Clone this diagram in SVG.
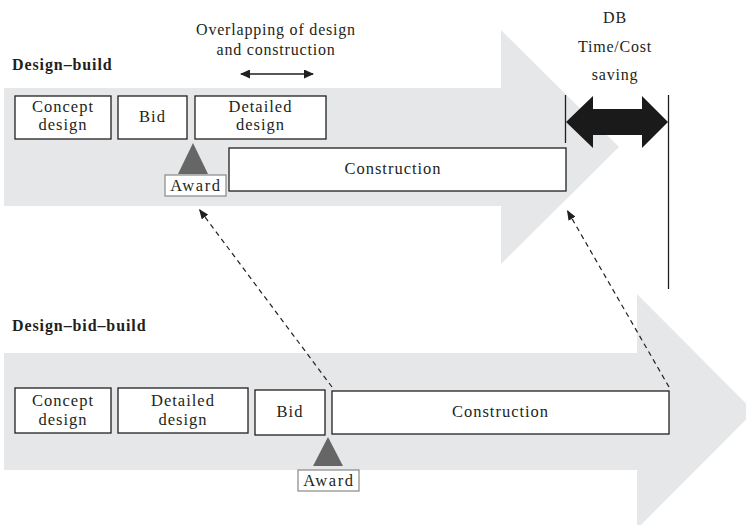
<svg xmlns="http://www.w3.org/2000/svg" width="746" height="525" viewBox="0 0 746 525">
<defs>
<style>
.band{fill:#e6e7e8;}
.box{fill:#fff;stroke:#231f20;stroke-width:1.3;}
.awbox{fill:#fff;stroke:#888;stroke-width:1.2;}
.tri{fill:#666;}
text{font-family:'Liberation Serif','DejaVu Serif',serif;fill:#231f20;font-size:16.5px;letter-spacing:1px;}
.c{text-anchor:middle;}
.ov{font-size:16px;letter-spacing:0.8px;}
.title{font-weight:bold;font-size:16px;letter-spacing:0.9px;}
.aw{font-size:16.5px;letter-spacing:1.6px;}
.dash{stroke:#231f20;stroke-width:1.2;stroke-dasharray:5,4;fill:none;}
.vline{stroke:#231f20;stroke-width:1.3;}
</style>
<marker id="ah" viewBox="0 0 10 8" refX="10" refY="4" markerWidth="10" markerHeight="8" markerUnits="userSpaceOnUse" orient="auto">
<path d="M0,0 L10,4 L0,8 z" fill="#231f20"/>
</marker>
<marker id="ah2" viewBox="0 0 10 9" refX="9" refY="4.5" markerWidth="10" markerHeight="9" markerUnits="userSpaceOnUse" orient="auto-start-reverse">
<path d="M0,0 L10,4.5 L0,9 z" fill="#231f20"/>
</marker>
</defs>
<rect width="746" height="525" fill="#fff"/>

<g id="band-design-build">
<polygon class="band" points="4,88 501,88 501,30 619,147 501,264 501,206 4,206"/>
</g>
<g id="band-design-bid-build">
<polygon class="band" points="4,353 637,353 637,294 754,411.5 637,529 637,470 4,470"/>
</g>

<g id="label-db"><text class="title" x="12" y="70">Design–build</text></g>
<g id="label-dbb"><text class="title" x="12" y="331">Design–bid–build</text></g>

<g id="overlap-label">
<text class="c ov" x="276" y="35">Overlapping of design</text>
<text class="c ov" x="276" y="55">and construction</text>
</g>

<g id="saving-label">
<text class="c ov" x="615" y="23">DB</text>
<text class="c ov" x="615" y="52">Time/Cost</text>
<text class="c ov" x="615" y="80">saving</text>
</g>

<g id="db-concept"><rect class="box" x="15" y="96" width="96" height="43"/>
<text class="c" x="63" y="112">Concept</text><text class="c" x="63" y="130">design</text></g>
<g id="db-bid"><rect class="box" x="118" y="96" width="69" height="43"/>
<text class="c" x="152.5" y="122">Bid</text></g>
<g id="db-detailed"><rect class="box" x="195" y="96" width="131" height="43"/>
<text class="c" x="260.5" y="112">Detailed</text><text class="c" x="260.5" y="130">design</text></g>
<g id="db-construction"><rect class="box" x="229" y="148" width="337" height="43"/>
<text class="c" x="393" y="174">Construction</text></g>
<g id="db-award">
<polygon class="tri" points="193,143 208,174 178,174"/>
<rect class="awbox" x="165" y="175" width="61" height="21"/>
<text class="c aw" x="196" y="191">Award</text></g>

<g id="dbb-concept"><rect class="box" x="15" y="388" width="96" height="45"/>
<text class="c" x="63" y="406">Concept</text><text class="c" x="63" y="425">design</text></g>
<g id="dbb-detailed"><rect class="box" x="118" y="388" width="130" height="45"/>
<text class="c" x="183" y="406">Detailed</text><text class="c" x="183" y="425">design</text></g>
<g id="dbb-bid"><rect class="box" x="255" y="390" width="70" height="45"/>
<text class="c" x="290" y="417">Bid</text></g>
<g id="dbb-construction"><rect class="box" x="332" y="391" width="337" height="43"/>
<text class="c" x="500.5" y="417">Construction</text></g>
<g id="dbb-award">
<polygon class="tri" points="328,437 343,466 313,466"/>
<rect class="awbox" x="298" y="470" width="61" height="21"/>
<text class="c aw" x="329" y="486">Award</text></g>

<g id="connectors">
<line x1="241" y1="74" x2="313" y2="74" stroke="#231f20" stroke-width="1.5" marker-start="url(#ah2)" marker-end="url(#ah2)"/>
<line class="vline" x1="565.5" y1="95" x2="565.5" y2="143"/>
<line class="vline" x1="668.5" y1="95" x2="668.5" y2="289"/>
<polygon fill="#1a1a1a" points="566,122 593,96 593,109 642,109 642,96 668,122 642,148 642,135 593,135 593,148"/>
<line class="dash" x1="332" y1="387" x2="199" y2="209" marker-end="url(#ah)"/>
<line class="dash" x1="669" y1="387" x2="567" y2="210" marker-end="url(#ah)"/>
</g>
</svg>
